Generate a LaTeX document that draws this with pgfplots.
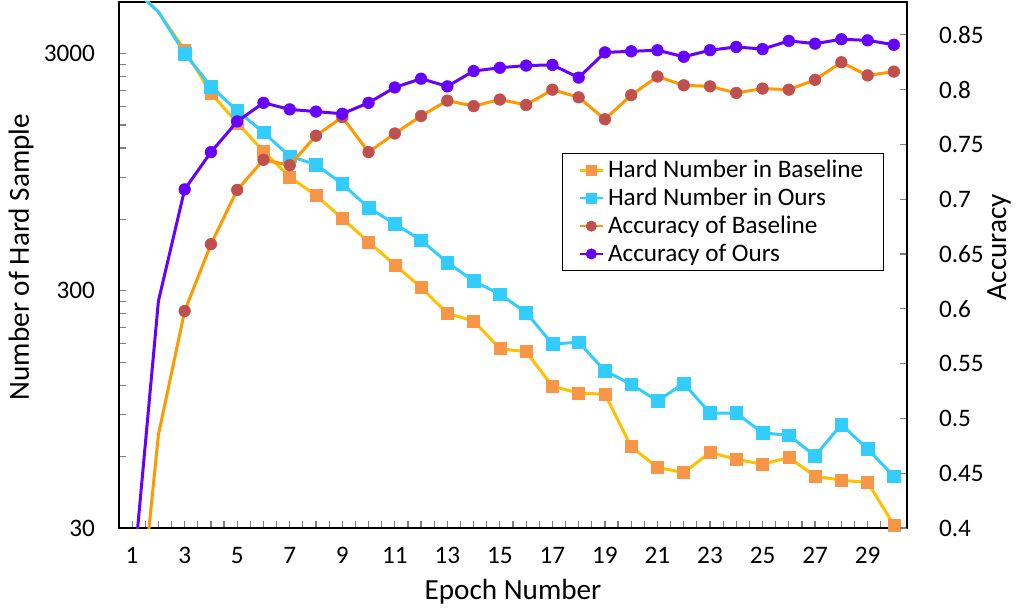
\documentclass[border=0pt]{standalone}
\usepackage{fontspec}
\setmainfont{Carlito}
\usepackage{pgfplots}
\usepackage{pgfplotstable}
\pgfplotsset{compat=1.18}
\definecolor{hbline}{HTML}{FFC000}
\definecolor{hbmark}{HTML}{F79646}
\definecolor{hoc}{HTML}{33CCFF}
\definecolor{abline}{HTML}{FF9900}
\definecolor{abmark}{HTML}{C0504D}
\definecolor{aoc}{HTML}{6600FF}
\definecolor{tickgray}{HTML}{808080}

\pgfplotstableread{
ep HB HO AB AO
1 5700 5700 0.248 0.345
2 4500 4500 0.485 0.607
3 3108 3003 0.598 0.709
4 2043 2179 0.659 0.743
5 1529 1722 0.7085 0.771
6 1162 1397 0.736 0.788
7 906 1107 0.731 0.782
8 757 1022 0.758 0.780
9 606 847 0.775 0.778
10 482 672 0.743 0.788
11 386 575 0.760 0.802
12 310 490 0.776 0.810
13 241 395 0.790 0.803
14 224 330 0.785 0.817
15 171 290 0.791 0.820
16 166 243 0.786 0.822
17 119 179 0.800 0.8226
18 111 182 0.793 0.811
19 110 138 0.773 0.834
20 66 121 0.795 0.835
21 54 103 0.812 0.836
22 51.4 122 0.804 0.830
23 62.4 91.6 0.803 0.836
24 58.5 91.6 0.797 0.839
25 55.7 75.5 0.801 0.837
26 59.5 73.8 0.800 0.8445
27 49.6 60.4 0.809 0.842
28 47.7 82 0.825 0.846
29 46.7 64.5 0.813 0.845
30 30.9 49.6 0.8165 0.841
}\data

\pgfplotsset{
  hbstyle/.style={color=hbline, line width=1.5pt, mark=square*, mark size=3pt, mark options={fill=hbmark, draw=hbmark, line width=0.3pt}},
  hostyle/.style={color=hoc, line width=1.5pt, mark=square*, mark size=3.2pt, mark options={fill=hoc, draw=hoc, line width=0.3pt}},
  abstyle/.style={color=abline, line width=1.5pt, mark=*, mark size=2.9pt, mark options={fill=abmark, draw=abmark, line width=0.3pt}},
  aostyle/.style={color=aoc, line width=1.5pt, mark=*, mark size=2.9pt, mark options={fill=aoc, draw=aoc, line width=0.3pt}},
  common/.style={
    width=394pt, height=263pt, scale only axis,
    xmin=0.5, xmax=30.5,
    tick label style={font=\fontsize{12.6}{14}\selectfont},
    label style={font=\fontsize{14.6}{16}\selectfont},
    /pgf/number format/assume math mode=true,
    axis line style={line width=1pt, black},
    major tick length=3.5pt, minor tick length=3.5pt,
    every tick/.style={tickgray, line width=0.6pt},
  },
}

\begin{document}
\begin{tikzpicture}
\begin{axis}[common,
  ymode=log, ymin=30, ymax=4950,
  ytick={30,300,3000}, yticklabels={30,300,3000},
  minor ytick={60,90,120,150,180,210,240,270,600,900,1200,1500,1800,2100,2400,2700},
  xtick={1,3,...,29},
  minor xtick={0.5,1,...,30.5},
  xtick pos=bottom, ytick pos=left,
  yticklabel style={xshift=-8.5pt},
  xticklabel style={yshift=-6pt},
  xlabel={Epoch Number},
  ylabel={Number of Hard Sample},
  xlabel style={at={(rel axis cs:0.5,0)}, anchor=center, yshift=-32pt},
  ylabel style={at={(rel axis cs:0,0.515)}, anchor=center, yshift=49pt},
]
\coordinate (BL) at (rel axis cs:0,0);
\coordinate (TR) at (rel axis cs:1,1);
\addplot[hbstyle, mark indices={2,3,...,30}] table[x=ep, y=HB] {\data};
\addplot[hostyle, mark indices={2,3,...,30}] table[x=ep, y=HO] {\data};
\end{axis}
\begin{axis}[common,
  ymin=0.4, ymax=0.88,
  axis x line=none, axis y line*=right,
  ytick={0.4,0.45,0.5,0.55,0.6,0.65,0.7,0.75,0.8,0.85},
  yticklabel style={/pgf/number format/fixed, /pgf/number format/precision=2, xshift=12.5pt},
  ylabel={Accuracy},
  ylabel style={at={(rel axis cs:1,0.534)}, anchor=center, yshift=-46pt},
  legend style={at={(0.562,0.713)}, anchor=north west, draw=black, line width=0.75pt,
    font=\fontsize{12.6}{15}\selectfont, inner xsep=8pt, inner ysep=1.2pt,
    cells={anchor=west}, row sep=-0.3pt},
  legend cell align=left,
  legend image code/.code={\draw[mark repeat=2,mark phase=2] plot coordinates {(0pt,0pt) (5.75pt,0pt) (11.5pt,0pt)};},
]
\addlegendimage{hbstyle, mark size=2.5pt, line width=1.2pt}
\addlegendentry{Hard Number in Baseline}
\addlegendimage{hostyle, mark size=2.5pt, line width=1.2pt}
\addlegendentry{Hard Number in Ours}
\addlegendimage{abstyle, mark size=2.6pt, line width=1.2pt}
\addlegendentry{Accuracy of Baseline}
\addlegendimage{aostyle, mark size=2.6pt, line width=1.2pt}
\addlegendentry{Accuracy of Ours}
\addplot[abstyle, mark indices={2,3,...,30}, forget plot] table[x=ep, y=AB] {\data};
\addplot[aostyle, mark indices={2,3,...,30}, forget plot] table[x=ep, y=AO] {\data};
\end{axis}
\pgfresetboundingbox
\path ([shift={(-59.5pt,-41pt)}]BL) rectangle ([shift={(56pt,1pt)}]TR);
\end{tikzpicture}
\end{document}
